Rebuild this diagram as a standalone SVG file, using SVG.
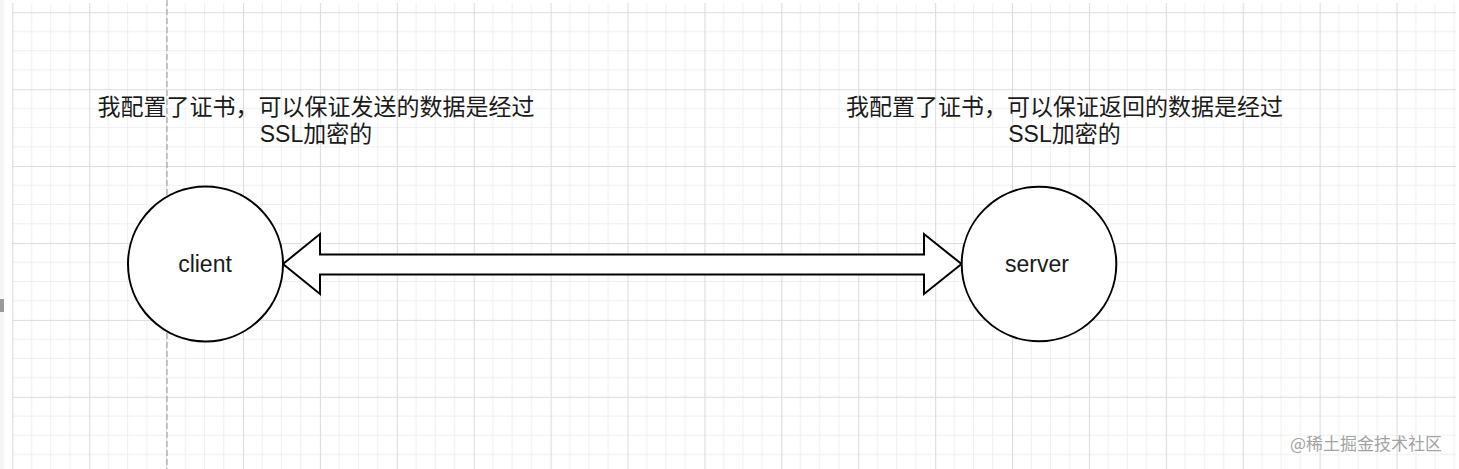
<svg xmlns="http://www.w3.org/2000/svg" width="1459" height="469" viewBox="0 0 1459 469">
  <defs>
    <pattern id="grid" patternUnits="userSpaceOnUse" x="12.3" y="12.3" width="76.9" height="76.9">
      <path d="M19.225 0V76.9M38.45 0V76.9M57.675 0V76.9M0 19.225H76.9M0 38.45H76.9M0 57.675H76.9" stroke="#efefef" stroke-width="1" fill="none"/>
      <path d="M0.5 0V76.9M0 0.5H76.9" stroke="#dcdcdc" stroke-width="1.2" fill="none"/>
    </pattern>
  </defs>
  <style>
    .node { fill: #ffffff; stroke: #000000; stroke-width: 2; }
    .lbl { font-family: "Liberation Sans", "Noto Sans CJK SC", sans-serif; font-size: 23px; fill: #1a1a1a; text-anchor: middle; }
    .note { font-family: "Liberation Sans", "Noto Sans CJK SC", sans-serif; font-size: 23px; fill: #1a1a1a; text-anchor: middle; }
    .wm { font-family: "Noto Sans CJK SC", sans-serif; font-size: 17px; fill: #a3a3a3; text-anchor: end; }
  </style>
  <rect x="0" y="0" width="1459" height="469" fill="#ffffff"/>
  <rect x="0" y="0" width="4" height="469" fill="#f6f6f6"/>
  <rect x="12" y="3" width="1444" height="466" fill="url(#grid)"/>
  <rect x="0" y="299" width="4" height="13" fill="#9a9a9a"/>
  <line x1="167" y1="0" x2="167" y2="469" stroke="#a8a8a8" stroke-width="1.2" stroke-dasharray="6 3"/>

  <g id="connectors">
    <polygon points="283,264 320,234 320,254.5 924,254.5 924,234 961.5,264 924,294 924,274.5 320,274.5 320,294" fill="#ffffff" stroke="#000000" stroke-width="2" stroke-linejoin="miter"/>
  </g>

  <g id="client">
    <circle class="node" cx="205.5" cy="264" r="77.5"/>
    <text class="lbl" x="205" y="271.5">client</text>
  </g>

  <g id="server">
    <circle class="node" cx="1039" cy="264" r="77.3"/>
    <text class="lbl" x="1037" y="271.5">server</text>
  </g>

  <g id="note-client">
    <text class="note" x="316" y="114.5">我配置了证书，可以保证发送的数据是经过</text>
    <text class="note" x="316" y="141.5">SSL加密的</text>
  </g>

  <g id="note-server">
    <text class="note" x="1064.5" y="114.5">我配置了证书，可以保证返回的数据是经过</text>
    <text class="note" x="1064.5" y="141.5">SSL加密的</text>
  </g>

  <text class="wm" x="1442" y="449.5">@稀土掘金技术社区</text>
</svg>
